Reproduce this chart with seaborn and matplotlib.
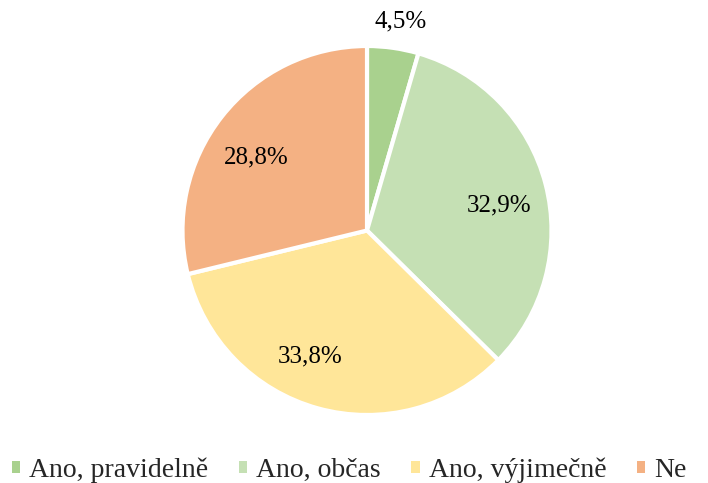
import seaborn as sns
import matplotlib.pyplot as plt
from matplotlib.patches import Patch
import numpy as np

sns.set_theme(style="white")
plt.rcParams['font.family'] = ['Liberation Serif', 'DejaVu Serif']

categories = ['Ano, pravidelně', 'Ano, občas', 'Ano, výjimečně', 'Ne']
values = [4.5, 32.9, 33.8, 28.8]
labels = ['4,5%', '32,9%', '33,8%', '28,8%']
colors = ['#a9d18e', '#c5e0b4', '#ffe699', '#f4b183']

fig = plt.figure(figsize=(7.08, 4.83), dpi=100)
cx, cy, r = 367, 230.5, 184.5
ax = fig.add_axes([(cx - r) / 708, (483 - cy - r) / 483, 2 * r / 708, 2 * r / 483])

wedges, _ = ax.pie(values, colors=colors, startangle=90, counterclock=False,
                   wedgeprops=dict(edgecolor='white', linewidth=3))
ax.set_xlim(-1, 1)
ax.set_ylim(-1, 1)

# label distance / angle nudge per wedge; the small one sits outside
dists = [1.15, 0.73, 0.75, 0.72]
nudges = [-1, -4, -9, 5]
for w, lab, d, n in zip(wedges, labels, dists, nudges):
    ang = np.deg2rad((w.theta1 + w.theta2) / 2 + n)
    ax.text(d * np.cos(ang), d * np.sin(ang), lab, ha='center', va='center',
            fontsize=18, color='black')

handles = [Patch(facecolor=c, edgecolor='none') for c in colors]
fig.legend(handles, categories, loc='lower left', ncol=4, frameon=False,
           fontsize=20, handlelength=0.3, handleheight=0.3, handletextpad=0.32,
           columnspacing=1.1, borderpad=0, borderaxespad=0,
           bbox_to_anchor=(12 / 708, 0.0))

fig.savefig('out.png', dpi=100)
